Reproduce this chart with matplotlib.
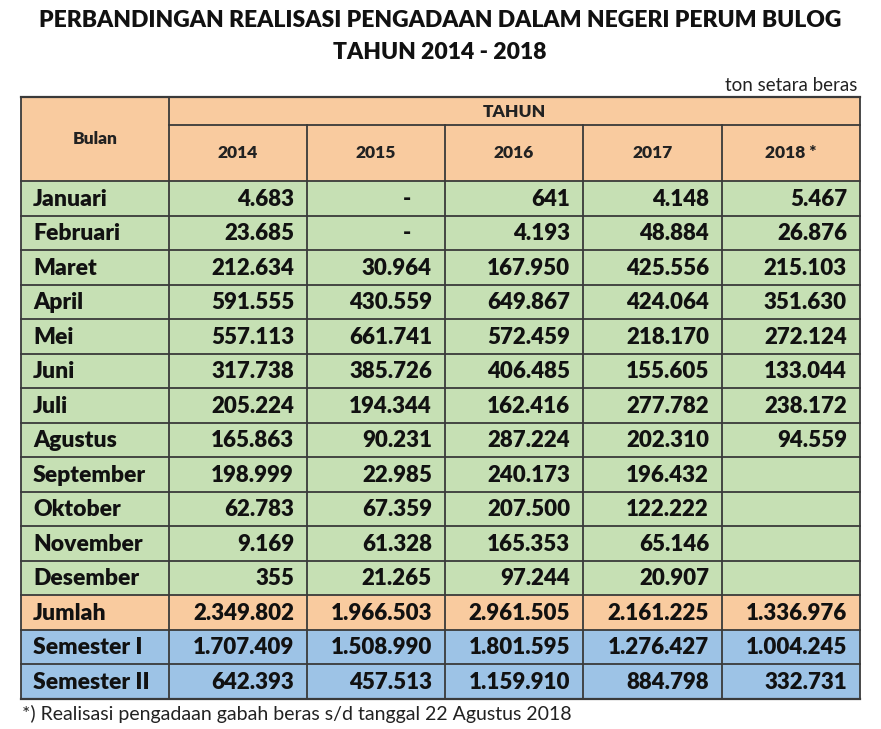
import matplotlib.pyplot as plt
from matplotlib.patches import Rectangle

months = ['Januari', 'Februari', 'Maret', 'April', 'Mei', 'Juni', 'Juli',
          'Agustus', 'September', 'Oktober', 'November', 'Desember']
years = ['2014', '2015', '2016', '2017', '2018 *']

v2014 = [4683, 23685, 212634, 591555, 557113, 317738, 205224, 165863, 198999, 62783, 9169, 355]
v2015 = [0, 0, 30964, 430559, 661741, 385726, 194344, 90231, 22985, 67359, 61328, 21265]
v2016 = [641, 4193, 167950, 649867, 572459, 406485, 162416, 287224, 240173, 207500, 165353, 97244]
v2017 = [4148, 48884, 425556, 424064, 218170, 155605, 277782, 202310, 196432, 122222, 65146, 20907]
v2018 = [5467, 26876, 215103, 351630, 272124, 133044, 238172, 94559, None, None, None, None]

jumlah = [2349802, 1966503, 2961505, 2161225, 1336976]
semester1 = [1707409, 1508990, 1801595, 1276427, 1004245]
semester2 = [642393, 457513, 1159910, 884798, 332731]

ORANGE = '#f9cb9f'
GREEN = '#c6e0b4'
BLUE = '#9dc3e6'
LINE = '#3a3a3a'
FONT = 'Lato'
HEAVY = 800


def fmt(v):
    if v is None:
        return ''
    if v == 0:
        return '-'
    return f'{v:,}'.replace(',', '.')


fig = plt.figure(figsize=(8.81, 7.29), dpi=100)
ax = fig.add_axes([0, 0, 1, 1])
ax.set_xlim(0, 881)
ax.set_ylim(729, 0)
ax.axis('off')

col_x = [21, 169, 307, 445, 583, 722, 860]
top, mid, head_bot = 97, 125, 181
row_h = 34.5

# header cells
ax.add_patch(Rectangle((col_x[0], top), col_x[-1] - col_x[0], head_bot - top, fc=ORANGE, ec='none'))
ax.text((col_x[0] + col_x[1]) / 2, 139, 'Bulan', ha='center', va='center', fontsize=12.5,
        fontweight=HEAVY, family=FONT, color='#222222')
ax.text((col_x[1] + col_x[-1]) / 2, 112, 'TAHUN', ha='center', va='center', fontsize=12.5,
        fontweight=HEAVY, family=FONT, color='#222222')
for i, y in enumerate(years):
    ax.text((col_x[i + 1] + col_x[i + 2]) / 2, 153, y, ha='center', va='center', fontsize=12.5,
            fontweight=HEAVY, family=FONT, color='#222222')

series = [v2014, v2015, v2016, v2017, v2018]
rows = [(m, [s[k] for s in series], GREEN) for k, m in enumerate(months)]
rows.append(('Jumlah', jumlah, ORANGE))
rows.append(('Semester I', semester1, BLUE))
rows.append(('Semester II', semester2, BLUE))

for r, (label, vals, color) in enumerate(rows):
    y0 = head_bot + r * row_h
    ax.add_patch(Rectangle((col_x[0], y0), col_x[-1] - col_x[0], row_h, fc=color, ec='none'))
    yc = y0 + row_h / 2 + 1
    ax.text(col_x[0] + 12, yc, label, ha='left', va='center', fontsize=16.5,
            fontweight=HEAVY, family=FONT, color='#111111')
    for i, v in enumerate(vals):
        s = fmt(v)
        xr = col_x[i + 2] - (34 if s == '-' else 13)
        ax.text(xr, yc, s, ha='right', va='center', fontsize=16,
                fontweight=HEAVY, family=FONT, color='#111111')

bottom = head_bot + len(rows) * row_h

# grid lines
for r in range(len(rows) + 1):
    y = head_bot + r * row_h
    ax.plot([col_x[0], col_x[-1]], [y, y], color=LINE, lw=1.3)
ax.plot([col_x[1], col_x[-1]], [mid, mid], color=LINE, lw=1.3)
for i, x in enumerate(col_x):
    if i in (0, 1, len(col_x) - 1):
        ax.plot([x, x], [top, bottom], color=LINE, lw=1.3)
    else:
        ax.plot([x, x], [mid, bottom], color=LINE, lw=1.3)
ax.plot([col_x[0], col_x[-1]], [top, top], color=LINE, lw=1.6)
ax.plot([col_x[0], col_x[-1]], [bottom, bottom], color=LINE, lw=1.6)

ax.text(440, 20, 'PERBANDINGAN REALISASI PENGADAAN DALAM NEGERI PERUM BULOG', ha='center', va='center',
        fontsize=16.5, fontweight=HEAVY, family=FONT, color='#111111')
ax.text(440, 52, 'TAHUN 2014 - 2018', ha='center', va='center',
        fontsize=16.5, fontweight=HEAVY, family=FONT, color='#111111')
ax.text(857, 85, 'ton setara beras', ha='right', va='center', fontsize=13.5, family=FONT, color='#222222')
ax.text(22, 714, '*) Realisasi pengadaan gabah beras s/d tanggal 22 Agustus 2018', ha='left', va='center',
        fontsize=14, family=FONT, color='#222222')

fig.savefig('out.png', dpi=100, facecolor='white')
